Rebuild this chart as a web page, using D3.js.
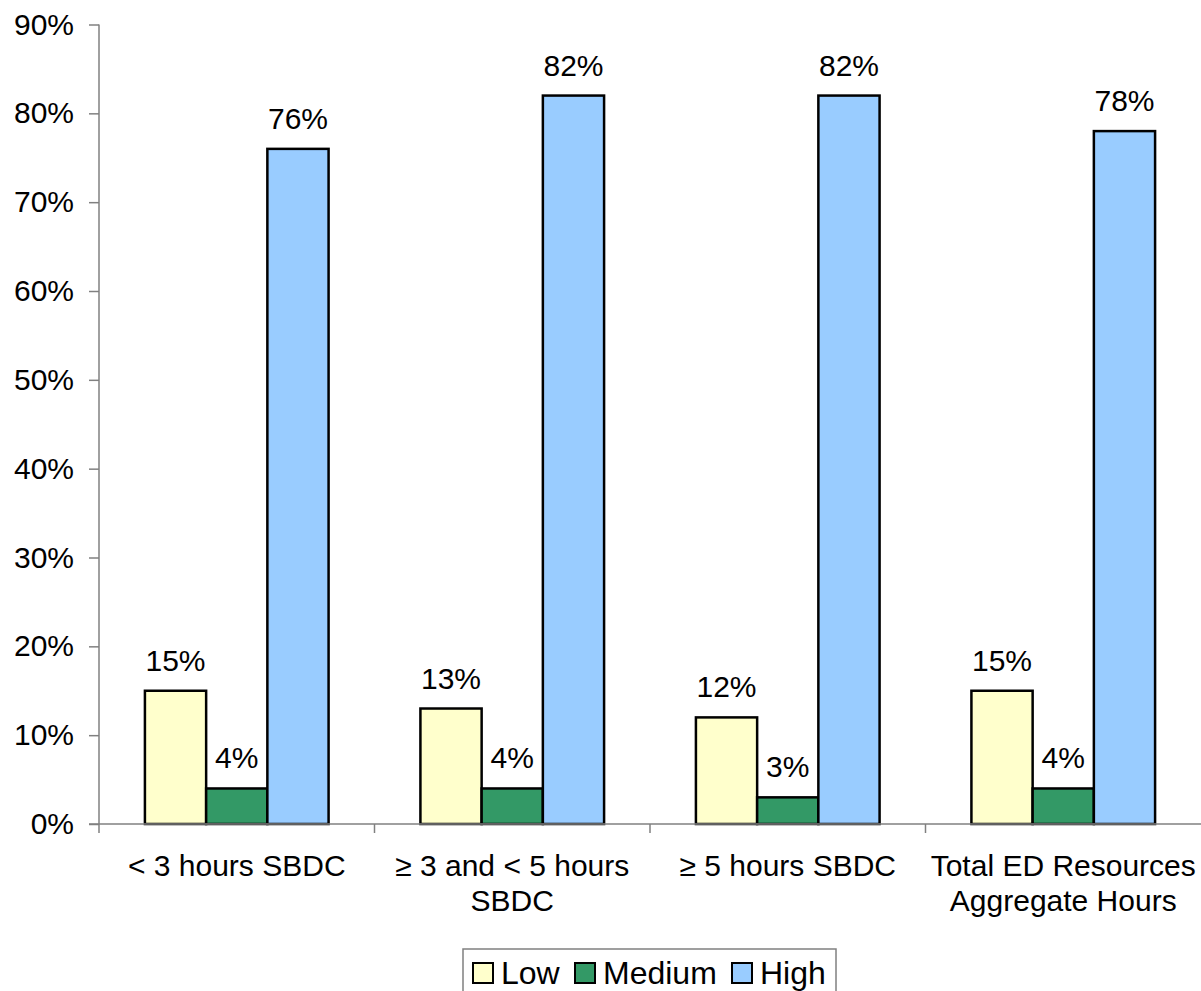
<!DOCTYPE html>
<html>
<head>
<meta charset="utf-8">
<script src="https://cdn.jsdelivr.net/npm/d3@7"></script>
<style>
  html, body { margin: 0; padding: 0; background: #fff; }
  svg { display: block; font-family: "Liberation Sans", Arial, sans-serif; }
</style>
</head>
<body>
<svg id="chart" width="1201" height="991"></svg>
<script>
// Share of respondents by level, for each SBDC-hours group
const categories = [
  ["< 3 hours SBDC"],
  ["\u2265 3 and < 5 hours", "SBDC"],
  ["\u2265 5 hours SBDC"],
  ["Total ED Resources", "Aggregate Hours"]
];
const seriesNames = ["Low", "Medium", "High"];
const lowValues = [0.15, 0.13, 0.12, 0.15];
const mediumValues = [0.04, 0.04, 0.03, 0.04];
const highValues = [0.76, 0.82, 0.82, 0.78];
const yTicks = [0, 0.1, 0.2, 0.3, 0.4, 0.5, 0.6, 0.7, 0.8, 0.9];

// Layout
const colors = ["#FFFFCC", "#339966", "#99CCFF"];
const plotLeft = 99, plotRight = 1201, plotTop = 24.5, plotBottom = 824;
const fontSize = 30;

const series = [lowValues, mediumValues, highValues];
const svg = d3.select("#chart");

const y = d3.scaleLinear().domain([0, 0.9]).range([plotBottom, plotTop]);
const x0 = d3.scaleBand()
  .domain(d3.range(categories.length))
  .range([plotLeft, plotRight])
  .paddingInner(1 / 3)
  .paddingOuter(1 / 6);
const x1 = d3.scaleBand()
  .domain(d3.range(seriesNames.length))
  .range([0, x0.bandwidth()]);
const step = x0.step();

// Y axis
const yAxis = svg.append("g")
  .attr("transform", `translate(${plotLeft},0)`)
  .call(d3.axisLeft(y).tickValues(yTicks).tickFormat(d3.format(".0%")).tickSizeOuter(0).tickSize(10));
yAxis.select(".domain").remove();
yAxis.selectAll(".tick line").attr("stroke", "#808080").attr("stroke-width", 1.5);
yAxis.selectAll(".tick text")
  .attr("x", -25)
  .attr("font-size", fontSize)
  .attr("font-family", "Liberation Sans, Arial, sans-serif")
  .attr("fill", "#000");
svg.append("line")
  .attr("x1", plotLeft).attr("x2", plotLeft)
  .attr("y1", plotTop).attr("y2", plotBottom + 9)
  .attr("stroke", "#808080").attr("stroke-width", 1.5);

// Bars
const groups = svg.append("g").selectAll("g")
  .data(categories)
  .join("g")
  .attr("transform", (d, i) => `translate(${x0(i)},0)`);

groups.each(function(c, ci) {
  const g = d3.select(this);
  series.forEach((vals, si) => {
    const v = vals[ci];
    g.append("rect")
      .attr("x", x1(si))
      .attr("y", y(v))
      .attr("width", x1.bandwidth())
      .attr("height", y(0) - y(v))
      .attr("fill", colors[si])
      .attr("stroke", "#000")
      .attr("stroke-width", 2.5);
    g.append("text")
      .attr("x", x1(si) + x1.bandwidth() / 2)
      .attr("y", y(v) - 20)
      .attr("text-anchor", "middle")
      .attr("font-size", fontSize)
      .attr("fill", "#000")
      .text(d3.format(".0%")(v));
  });
});

// X axis line and category separators
svg.append("line")
  .attr("x1", plotLeft - 10).attr("x2", plotRight)
  .attr("y1", plotBottom).attr("y2", plotBottom)
  .attr("stroke", "#808080").attr("stroke-width", 1.5);
d3.range(1, categories.length).forEach(i => {
  const xs = plotLeft + i * step;
  svg.append("line")
    .attr("x1", xs).attr("x2", xs)
    .attr("y1", plotBottom).attr("y2", plotBottom + 9)
    .attr("stroke", "#808080").attr("stroke-width", 1.5);
});

// Category labels
categories.forEach((lines, i) => {
  const t = svg.append("text")
    .attr("text-anchor", "middle")
    .attr("font-size", fontSize)
    .attr("fill", "#000");
  lines.forEach((line, li) => {
    t.append("tspan")
      .attr("x", x0(i) + x0.bandwidth() / 2)
      .attr("y", 876 + li * 35)
      .text(line);
  });
});

// Legend
const legend = svg.append("g");
legend.append("rect")
  .attr("x", 463).attr("y", 949)
  .attr("width", 373).attr("height", 60)
  .attr("fill", "#fff")
  .attr("stroke", "#808080").attr("stroke-width", 1.5);
const legendX = [473, 575, 732];
seriesNames.forEach((name, i) => {
  legend.append("rect")
    .attr("x", legendX[i]).attr("y", 963)
    .attr("width", 20).attr("height", 20)
    .attr("fill", colors[i])
    .attr("stroke", "#000").attr("stroke-width", 2);
  legend.append("text")
    .attr("x", legendX[i] + 28).attr("y", 984)
    .attr("font-size", 32)
    .attr("fill", "#000")
    .text(name);
});
</script>
</body>
</html>
